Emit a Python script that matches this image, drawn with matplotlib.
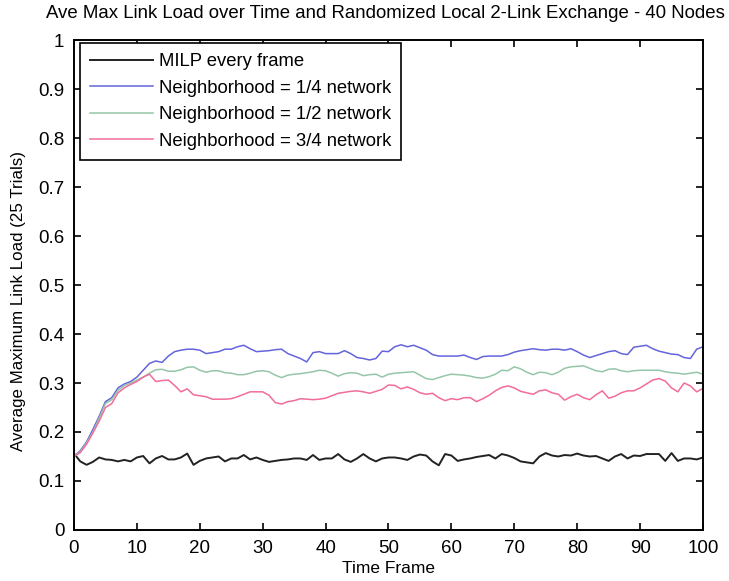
import matplotlib.pyplot as plt
import numpy as np

plt.rcParams['font.family'] = ['Liberation Sans', 'DejaVu Sans']

# time frames 0..100
frames = list(range(101))

milp = [0.156, 0.140, 0.133, 0.139, 0.148, 0.144, 0.143, 0.140, 0.143, 0.140,
        0.148, 0.151, 0.136, 0.146, 0.151, 0.144, 0.144, 0.148, 0.156, 0.133,
        0.141, 0.146, 0.148, 0.150, 0.140, 0.146, 0.146, 0.153, 0.144, 0.148,
        0.143, 0.139, 0.141, 0.143, 0.144, 0.146, 0.146, 0.143, 0.153, 0.143,
        0.146, 0.146, 0.155, 0.144, 0.139, 0.146, 0.155, 0.146, 0.140, 0.146,
        0.148, 0.148, 0.146, 0.143, 0.150, 0.154, 0.152, 0.140, 0.132, 0.155,
        0.152, 0.141, 0.144, 0.146, 0.149, 0.151, 0.153, 0.146, 0.155, 0.152,
        0.147, 0.140, 0.138, 0.136, 0.150, 0.157, 0.152, 0.150, 0.153, 0.152,
        0.156, 0.152, 0.150, 0.151, 0.146, 0.141, 0.150, 0.155, 0.146, 0.152,
        0.151, 0.155, 0.155, 0.155, 0.141, 0.157, 0.141, 0.146, 0.146, 0.144,
        0.148]

quarter = [0.150, 0.162, 0.180, 0.205, 0.232, 0.262, 0.270, 0.290, 0.298, 0.303,
           0.312, 0.326, 0.340, 0.345, 0.342, 0.355, 0.364, 0.367, 0.369, 0.369,
           0.367, 0.360, 0.362, 0.364, 0.369, 0.369, 0.374, 0.377, 0.370, 0.364,
           0.365, 0.366, 0.368, 0.369, 0.360, 0.355, 0.350, 0.343, 0.362, 0.364,
           0.360, 0.360, 0.360, 0.366, 0.360, 0.352, 0.350, 0.347, 0.350, 0.365,
           0.364, 0.374, 0.378, 0.374, 0.377, 0.372, 0.367, 0.358, 0.355, 0.355,
           0.355, 0.355, 0.357, 0.352, 0.348, 0.354, 0.355, 0.355, 0.355, 0.358,
           0.363, 0.366, 0.368, 0.370, 0.368, 0.367, 0.369, 0.369, 0.367, 0.370,
           0.364, 0.357, 0.352, 0.356, 0.360, 0.364, 0.366, 0.360, 0.358, 0.373,
           0.375, 0.377, 0.370, 0.365, 0.362, 0.359, 0.358, 0.352, 0.350, 0.369,
           0.374]

half = [0.150, 0.160, 0.178, 0.200, 0.228, 0.258, 0.266, 0.285, 0.295, 0.300,
        0.306, 0.312, 0.320, 0.327, 0.328, 0.324, 0.324, 0.327, 0.332, 0.333,
        0.326, 0.322, 0.325, 0.325, 0.321, 0.320, 0.317, 0.317, 0.320, 0.324,
        0.325, 0.323, 0.316, 0.311, 0.316, 0.318, 0.319, 0.321, 0.323, 0.326,
        0.325, 0.320, 0.314, 0.319, 0.321, 0.320, 0.315, 0.317, 0.318, 0.312,
        0.318, 0.320, 0.321, 0.322, 0.323, 0.316, 0.309, 0.307, 0.311, 0.315,
        0.318, 0.317, 0.316, 0.314, 0.311, 0.310, 0.313, 0.318, 0.326, 0.325,
        0.333, 0.329, 0.322, 0.317, 0.322, 0.321, 0.317, 0.322, 0.330, 0.333,
        0.334, 0.335, 0.330, 0.325, 0.323, 0.328, 0.329, 0.325, 0.323, 0.325,
        0.326, 0.326, 0.326, 0.326, 0.323, 0.321, 0.320, 0.318, 0.320, 0.322,
        0.318]

three_q = [0.150, 0.158, 0.175, 0.198, 0.222, 0.250, 0.258, 0.280, 0.290, 0.297,
           0.303, 0.312, 0.318, 0.303, 0.305, 0.306, 0.295, 0.282, 0.288, 0.276,
           0.274, 0.272, 0.267, 0.267, 0.267, 0.268, 0.272, 0.277, 0.282, 0.282,
           0.282, 0.275, 0.260, 0.257, 0.262, 0.264, 0.268, 0.267, 0.266, 0.267,
           0.269, 0.274, 0.279, 0.281, 0.283, 0.284, 0.282, 0.279, 0.283, 0.287,
           0.296, 0.295, 0.288, 0.292, 0.287, 0.280, 0.277, 0.279, 0.270, 0.264,
           0.268, 0.266, 0.270, 0.270, 0.262, 0.268, 0.275, 0.284, 0.291, 0.294,
           0.290, 0.283, 0.280, 0.277, 0.284, 0.286, 0.280, 0.277, 0.265, 0.272,
           0.277, 0.270, 0.266, 0.276, 0.284, 0.269, 0.273, 0.280, 0.284, 0.284,
           0.290, 0.298, 0.306, 0.309, 0.304, 0.290, 0.282, 0.300, 0.294, 0.282,
           0.289]

labels = ['MILP every frame', 'Neighborhood = 1/4 network',
          'Neighborhood = 1/2 network', 'Neighborhood = 3/4 network']
colors = ['#222222', '#6464dc', '#95c6a8', '#f26c9c']

xticks = [0, 10, 20, 30, 40, 50, 60, 70, 80, 90, 100]
yticks = [0, 0.1, 0.2, 0.3, 0.4, 0.5, 0.6, 0.7, 0.8, 0.9, 1]
ytick_labels = ['0', '0.1', '0.2', '0.3', '0.4', '0.5', '0.6', '0.7', '0.8', '0.9', '1']

fig = plt.figure(figsize=(7.29, 5.81), dpi=100)
ax = fig.add_axes([0.1015, 0.0878, 0.8628, 0.8433])

for series, lab, col in zip([milp, quarter, half, three_q], labels, colors):
    lw = 1.4 if col == '#222222' else 1.1
    ax.plot(frames, series, color=col, lw=lw, label=lab)

ax.set_xlim(0, 100)
ax.set_ylim(0, 1)
ax.set_xticks(xticks)
ax.set_yticks(yticks)
ax.set_yticklabels(ytick_labels)
ax.tick_params(direction='in', top=True, right=True, length=5, width=1.2,
               labelsize=13.5)
ax.tick_params(axis='x', pad=7)
ax.tick_params(axis='y', pad=7)
for sp in ax.spines.values():
    sp.set_linewidth(1.4)

ax.set_xlabel('Time Frame', fontsize=12.5, labelpad=3)
ax.set_ylabel('Average Maximum Link Load (25 Trials)', fontsize=12.2)
ax.yaxis.set_label_coords(-0.076, 0.467)
fig.text(385 / 729, 1 - 13 / 581, 'Ave Max Link Load over Time and Randomized Local 2-Link Exchange - 40 Nodes',
         ha='center', va='center', fontsize=13.4)

leg = ax.legend(loc='upper left', bbox_to_anchor=(0.01, 0.994), fontsize=13.3,
                frameon=True, fancybox=False, framealpha=1, edgecolor='black',
                handlelength=3.4, handletextpad=0.3, labelspacing=0.52,
                borderpad=0.55, borderaxespad=0)
leg.get_frame().set_linewidth(1.2)

fig.savefig('out.png', dpi=100)
